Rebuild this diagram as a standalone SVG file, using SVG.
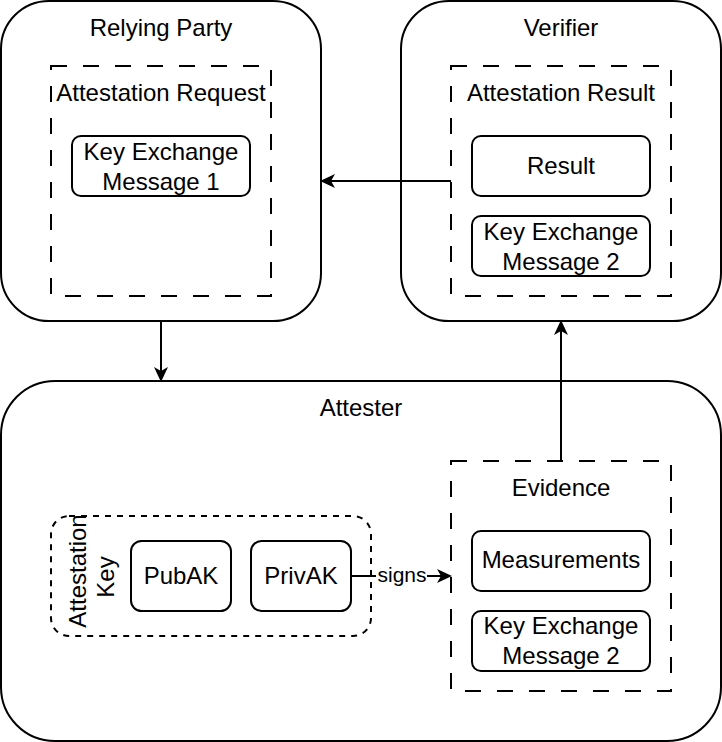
<svg xmlns="http://www.w3.org/2000/svg" width="722" height="742" viewBox="0 0 722 742">
  <defs>
    <style>
      .box { fill: #ffffff; stroke: #000000; stroke-width: 2; }
      .group { fill: none; stroke: #000000; stroke-width: 2; stroke-dasharray: 16 16; }
      .dotted { fill: none; stroke: #000000; stroke-width: 2; stroke-dasharray: 6 6; }
      .edge { fill: none; stroke: #000000; stroke-width: 2; marker-end: url(#arrow); }
      text { font-family: "Liberation Sans", Arial, sans-serif; font-size: 24px; fill: #000000; text-anchor: middle; }
      .lbl { font-size: 21px; }
    </style>
    <marker id="arrow" markerUnits="userSpaceOnUse" markerWidth="18" markerHeight="18" viewBox="0 0 18 18" refX="5" refY="9" orient="auto">
      <path d="M1,2 L16,9 L1,16 L5,9 Z" fill="#000000"/>
    </marker>
  </defs>
  <rect x="0" y="0" width="722" height="742" fill="#ffffff"/>

  <g id="relying-party">
    <rect class="box" x="1" y="1" width="320" height="320" rx="48" ry="48"/>
    <text x="161" y="36">Relying Party</text>
    <g id="attestation-request">
      <rect class="group" x="51" y="66" width="220" height="230"/>
      <text x="161" y="101">Attestation Request</text>
    </g>
    <g id="kem1">
      <rect class="box" x="72" y="136" width="178" height="60" rx="9" ry="9"/>
      <text x="161" y="160">Key Exchange</text>
      <text x="161" y="190">Message 1</text>
    </g>
  </g>

  <g id="verifier">
    <rect class="box" x="401" y="1" width="320" height="320" rx="48" ry="48"/>
    <text x="561" y="36">Verifier</text>
    <g id="attestation-result">
      <rect class="group" x="451" y="66" width="220" height="230"/>
      <text x="561" y="101">Attestation Result</text>
    </g>
    <g id="result">
      <rect class="box" x="472" y="136" width="178" height="60" rx="9" ry="9"/>
      <text x="561" y="174">Result</text>
    </g>
    <g id="kem2-verifier">
      <rect class="box" x="472" y="216" width="178" height="60" rx="9" ry="9"/>
      <text x="561" y="240">Key Exchange</text>
      <text x="561" y="270">Message 2</text>
    </g>
  </g>

  <g id="attester">
    <rect class="box" x="1" y="381" width="720" height="360" rx="54" ry="54"/>
    <text x="361" y="416">Attester</text>
    <g id="attestation-key">
      <rect class="dotted" x="51" y="516" width="320" height="120" rx="18" ry="18"/>
      <text transform="translate(86,571) rotate(-90)">Attestation</text>
      <text transform="translate(114,577) rotate(-90)">Key</text>
    </g>
    <g id="pubak">
      <rect class="box" x="131" y="541" width="100" height="70" rx="10.5" ry="10.5"/>
      <text x="181" y="584">PubAK</text>
    </g>
    <g id="privak">
      <rect class="box" x="251" y="541" width="100" height="70" rx="10.5" ry="10.5"/>
      <text x="301" y="584">PrivAK</text>
    </g>
    <g id="evidence">
      <rect class="group" x="451" y="461" width="220" height="230"/>
      <text x="561" y="496">Evidence</text>
    </g>
    <g id="measurements">
      <rect class="box" x="472" y="531" width="178" height="60" rx="9" ry="9"/>
      <text x="561" y="568">Measurements</text>
    </g>
    <g id="kem2-evidence">
      <rect class="box" x="472" y="611" width="178" height="60" rx="9" ry="9"/>
      <text x="561" y="634">Key Exchange</text>
      <text x="561" y="664">Message 2</text>
    </g>
  </g>

  <g id="connectors">
    <path class="edge" d="M451,181 L331,181"/>
    <path class="edge" d="M161,321 L161,371"/>
    <path class="edge" d="M561,461 L561,331"/>
    <path class="edge" d="M351,576 L441,576"/>
    <rect x="376" y="563" width="51" height="24" fill="#ffffff"/>
    <text class="lbl" x="402" y="582">signs</text>
  </g>
</svg>
